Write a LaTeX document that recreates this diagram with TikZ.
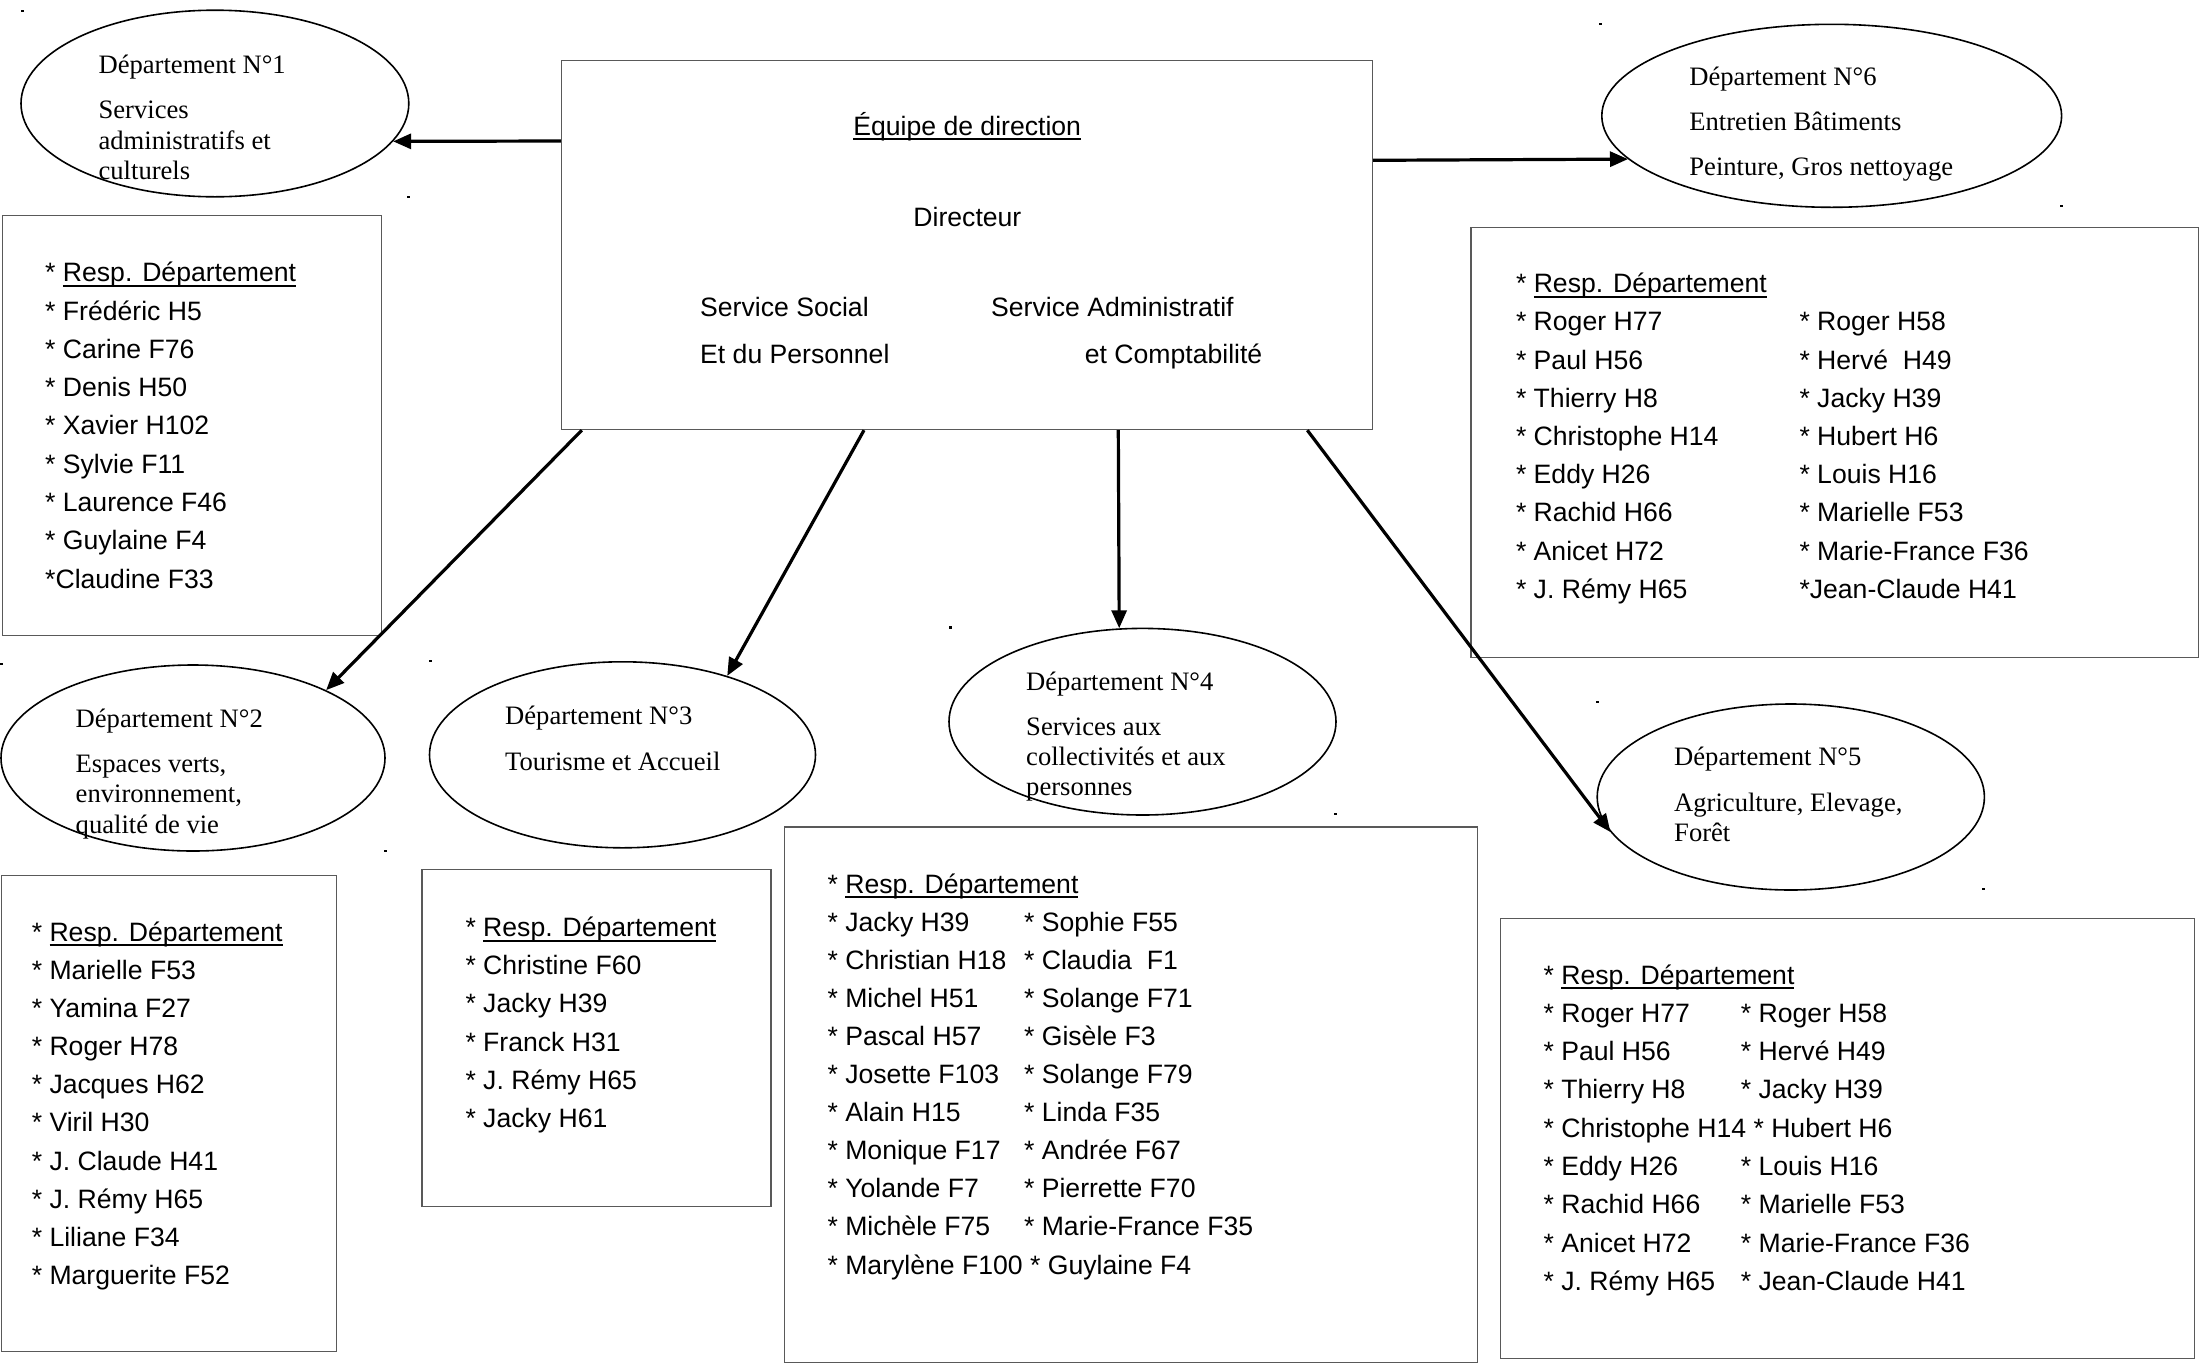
\documentclass[tikz,border=0pt]{standalone}
\usepackage{fontspec}
\setmainfont{Liberation Serif}
\setsansfont{Liberation Sans}
\usetikzlibrary{arrows.meta,shapes.geometric}
\newcommand\rw[1]{\hbox{#1}}
\newcommand\blk[2]{\vtop{\baselineskip=#1\lineskiplimit=-\maxdimen\lineskip=0pt #2}}
\newcommand\ulx[1]{\setbox0\hbox{#1}\rlap{\vrule height -3pt depth 5pt width \wd0}\box0}
\newcommand\resp{* \ulx{Resp. Département}}
\tikzset{
  dept/.style={draw=black, line width=1.6pt, ellipse, inner sep=0pt},
  listbox/.style={draw=black!65, line width=1.4pt, rectangle, inner sep=0pt, anchor=north west},
  serif/.style={font=\fontsize{26.6}{30.5}\selectfont\rmfamily, anchor=base west, inner sep=0pt},
  sans/.style={font=\fontsize{26.6}{38.3}\selectfont\sffamily, anchor=base west, inner sep=0pt},
  arr/.style={line width=3.2pt, -{Triangle[length=18pt,width=15pt]}},
  speck/.style={fill=black},
}
\begin{document}
\begin{tikzpicture}[x=1pt,y=-1pt]
\useasboundingbox (0,0) rectangle (2201,1366);
\fill[white] (0,0) rectangle (2201,1366);

% direction box
\node[draw=black!65, line width=1.4pt, minimum width=811pt, minimum height=369pt, inner sep=0pt] (dir) at (967,245) {};
\node[sans, anchor=base] (dt1) at (967.2,135) {\ulx{Équipe de direction}};
\node[sans, anchor=base] (dt2) at (967.4,226) {Directeur};
\node[sans] (dt3) at (700,316.7) {Service Social};
\node[sans] (dt4) at (700,363) {Et du Personnel};
\node[sans] (dt5) at (991,316.7) {Service Administratif};
\node[sans] (dt6) at (1084.7,363) {et Comptabilité};

% department ellipses
\node[dept, minimum width=387.8pt, minimum height=186.6pt] (e1) at (214.9,103.5) {};
\node[dept, minimum width=459.8pt, minimum height=183pt] (e6) at (1831.7,115.8) {};
\node[dept, minimum width=384pt, minimum height=186pt] (e2) at (193,758) {};
\node[dept, minimum width=386pt, minimum height=186pt] (e3) at (622.5,754.8) {};
\node[dept, minimum width=387pt, minimum height=186.6pt] (e4) at (1142.5,721.7) {};
\node[dept, minimum width=387.2pt, minimum height=186pt] (e5) at (1790.8,797) {};

\node[serif] (e1t) at (98.4,73.5) {\blk{30.6pt}{\rw{Département N°1}\vskip14.4pt\rw{Services}\rw{administratifs et}\rw{culturels}}};
\node[serif] (e6t) at (1689.2,85.5) {\blk{44.9pt}{\rw{Département N°6}\rw{Entretien Bâtiments}\rw{Peinture, Gros nettoyage}}};
\node[serif] (e2t) at (75.5,727) {\blk{30.5pt}{\rw{Département N°2}\vskip14.9pt\rw{Espaces verts,}\rw{environnement,}\rw{qualité de vie}}};
\node[serif] (e3t) at (505,724.8) {\blk{45.2pt}{\rw{Département N°3}\rw{Tourisme et Accueil}}};
\node[serif] (e4t) at (1026,690.4) {\blk{29.8pt}{\rw{Département N°4}\vskip15.6pt\rw{Services aux}\rw{collectivités et aux}\rw{personnes}}};
\node[serif] (e5t) at (1674,765.3) {\blk{30.7pt}{\rw{Département N°5}\vskip15.2pt\rw{Agriculture, Elevage,}\rw{Forêt}}};

% staff boxes
\node[listbox, minimum width=379pt, minimum height=420pt] (b1) at (2,215) {};
\node[listbox, minimum width=727.3pt, minimum height=430.3pt] (b6) at (1470.4,226.5) {};
\node[listbox, minimum width=334.7pt, minimum height=476.2pt] (b2) at (1,874.8) {};
\node[listbox, minimum width=349pt, minimum height=337.1pt] (b3) at (421.4,868.6) {};
\node[listbox, minimum width=693.2pt, minimum height=535.8pt] (b4) at (783.8,826.2) {};
\node[listbox, minimum width=694.2pt, minimum height=440.5pt] (b5) at (1499.8,917.5) {};

\node[sans] (b1t) at (45,281.7) {\blk{38.3pt}{\rw{\resp}\rw{* Frédéric H5}\rw{* Carine F76}\rw{* Denis H50}\rw{* Xavier H102}\rw{* Sylvie F11}\rw{* Laurence F46}\rw{* Guylaine F4}\rw{*Claudine F33}}};

\node[sans] (b6a) at (1515.8,292.7) {\blk{38.2pt}{\rw{\resp}\rw{* Roger H77}\rw{* Paul H56}\rw{* Thierry H8}\rw{* Christophe H14}\rw{* Eddy H26}\rw{* Rachid H66}\rw{* Anicet H72}\rw{* J. Rémy H65}}};
\node[sans] (b6b) at (1799.3,330.9) {\blk{38.2pt}{\rw{* Roger H58}\rw{* Hervé~~H49}\rw{* Jacky H39}\rw{* Hubert H6}\rw{* Louis H16}\rw{* Marielle F53}\rw{* Marie-France F36}\rw{*Jean-Claude H41}}};

\node[sans] (b2t) at (31.6,941.4) {\blk{38.1pt}{\rw{\resp}\rw{* Marielle F53}\rw{* Yamina F27}\rw{* Roger H78}\rw{* Jacques H62}\rw{* Viril H30}\rw{* J. Claude H41}\rw{* J. Rémy H65}\rw{* Liliane F34}\rw{* Marguerite F52}}};

\node[sans] (b3t) at (465.3,936.7) {\blk{38.1pt}{\rw{\resp}\rw{* Christine F60}\rw{* Jacky H39}\rw{* Franck H31}\rw{* J. Rémy H65}\rw{* Jacky H61}}};

\node[sans] (b4a) at (827.4,893) {\blk{38.1pt}{\rw{\resp}\rw{* Jacky H39}\rw{* Christian H18}\rw{* Michel H51}\rw{* Pascal H57}\rw{* Josette F103}\rw{* Alain H15}\rw{* Monique F17}\rw{* Yolande F7}\rw{* Michèle F75}\rw{* Marylène F100 * Guylaine F4}}};
\node[sans] (b4b) at (1023.9,931.1) {\blk{38.1pt}{\rw{* Sophie F55}\rw{* Claudia~~F1}\rw{* Solange F71}\rw{* Gisèle F3}\rw{* Solange F79}\rw{* Linda F35}\rw{* Andrée F67}\rw{* Pierrette F70}\rw{* Marie-France F35}}};

\node[sans] (b5a) at (1543.4,984) {\blk{38.3pt}{\rw{\resp}\rw{* Roger H77}\rw{* Paul H56}\rw{* Thierry H8}\rw{* Christophe H14 * Hubert H6}\rw{* Eddy H26}\rw{* Rachid H66}\rw{* Anicet H72}\rw{* J. Rémy H65}}};
\node[sans] (b5b) at (1740.7,1022.3) {\blk{38.3pt}{\rw{* Roger H58}\rw{* Hervé H49}\rw{* Jacky H39}\rw{}\rw{* Louis H16}\rw{* Marielle F53}\rw{* Marie-France F36}\rw{* Jean-Claude H41}}};

% connectors
\draw[arr] ([yshift=-81.2pt]dir.north west) -- (e1.-12.2);
\draw[arr] ([yshift=-100.5pt]dir.north east) -- (e6.192.7);
\draw[arr] ([xshift=21pt]dir.south west) -- (e2.27.2);
\draw[arr] ([xshift=303.2pt]dir.south west) -- (e3.37.1);
\draw[arr] ([xshift=557.5pt]dir.south west) -- (e4.104.2);
\draw[arr] ([xshift=746.5pt]dir.south west) -- (e5.191.6);

% small specks
\foreach \px/\py in {22.7/10.7, 408.5/197, 1600/24, 2061/206, 950/627.5, 1335/814, 430/661, 1.5/664, 1597/702, 1983/889, 385/851}
  \fill[speck] (\px-1.5,\py-1.2) rectangle (\px+1.5,\py+1.2);
\end{tikzpicture}
\end{document}
